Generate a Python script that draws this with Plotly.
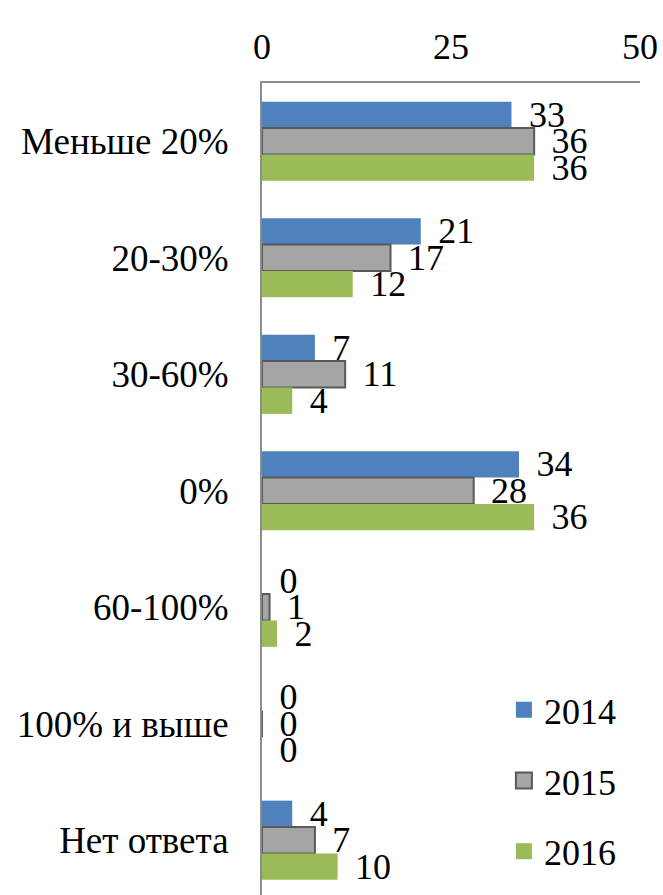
import plotly.graph_objects as go

categories = ["Меньше 20%", "20-30%", "30-60%", "0%", "60-100%", "100% и выше", "Нет ответа"]
years = ["2014", "2015", "2016"]
values_2014 = [33, 21, 7, 34, 0, 0, 4]
values_2015 = [36, 17, 11, 28, 1, 0, 7]
values_2016 = [36, 12, 4, 36, 2, 0, 10]
x_ticks = [0, 25, 50]

FONT = "'Liberation Serif', 'Times New Roman', serif"
colors = ["#4F81BD", "#A5A5A5", "#9BBB59"]
edges = ["#4F81BD", "#595959", "#9BBB59"]
edge_w = [0, 2, 0]

fig = go.Figure()
for name, vals, c, ec, ew in zip(years, [values_2014, values_2015, values_2016], colors, edges, edge_w):
    fig.add_trace(go.Bar(
        y=categories, x=vals, orientation="h", name=name,
        marker=dict(color=c, line=dict(color=ec, width=ew)),
        text=vals, texttemplate="\u2009\u2009%{x}", textposition="outside",
        constraintext="none", cliponaxis=False,
        textfont=dict(family=FONT, size=36, color="black"),
        showlegend=False, hoverinfo="x+y",
    ))
    # legend swatch
    fig.add_trace(go.Scatter(
        x=[None], y=[None], mode="markers", name=name, legendgroup=name,
        marker=dict(symbol="square", size=16, color=c, line=dict(color=ec, width=ew)),
    ))

fig.update_layout(
    width=663, height=895,
    margin=dict(l=262, r=23, t=83, b=0),
    paper_bgcolor="white", plot_bgcolor="white",
    barmode="group", bargap=0.32, bargroupgap=0,
    font=dict(family=FONT, size=36, color="black"),
    legend=dict(
        x=0.64, y=0.265, xanchor="left", yanchor="top",
        bgcolor="rgba(0,0,0,0)", font=dict(family=FONT, size=36),
        tracegroupgap=21, itemwidth=30,
    ),
    xaxis=dict(
        side="top", range=[0, 50], tickvals=x_ticks, showgrid=False, zeroline=False,
        showline=True, linecolor="#8c8c8c", linewidth=2, ticks="", automargin=False,
        ticklabelstandoff=8, ticklabeloverflow="allow", tickfont=dict(family=FONT, size=36),
    ),
    yaxis=dict(
        categoryorder="array", categoryarray=categories, range=[6.47, -0.5],
        showgrid=False, showline=True, linecolor="#8c8c8c", linewidth=2, ticks="",
        automargin=False, ticklabelstandoff=24, tickfont=dict(family=FONT, size=37),
    ),
)

# drop the default 8px page margin so the figure fills the window exactly
fig.write_html(
    "out.html",
    config={"displayModeBar": False},
    post_script="document.body.style.margin='0';document.body.style.overflow='hidden';",
)
